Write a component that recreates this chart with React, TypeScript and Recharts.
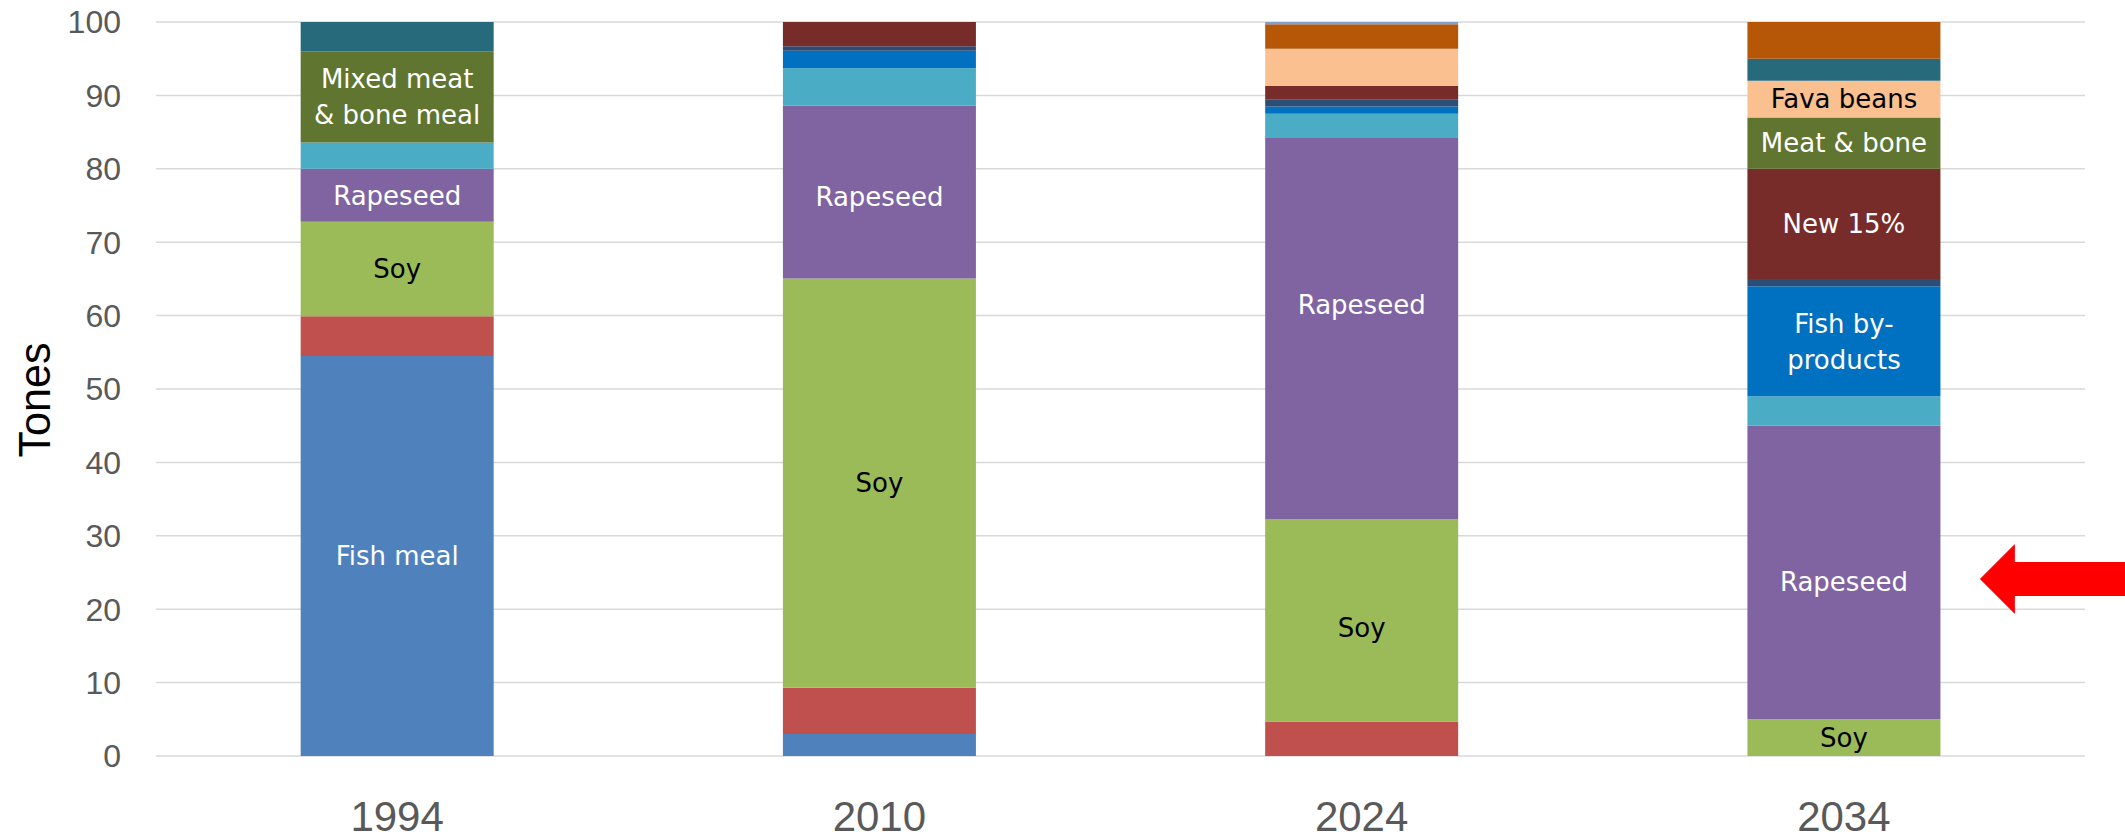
import React from 'react';
import { BarChart, Bar, XAxis, YAxis, CartesianGrid, LabelList, ReferenceDot, Label } from 'recharts';

const categories = ['1994', '2010', '2024', '2034'];

const fishMeal = [54.5, 3.0, 0, 0];
const otherRed = [5.4, 6.3, 4.7, 0];
const soy = [12.9, 55.75, 27.6, 5];
const rapeseed = [7.2, 23.55, 51.9, 40];
const lightBlue = [3.6, 5.1, 3.3, 4];
const fishByProducts = [0, 2.4, 1.0, 15];
const navy = [0, 0.6, 0.9, 1];
const new15 = [0, 3.3, 1.9, 15];
const meatBone = [12.4, 0, 0, 7];
const fava = [0, 0, 5.05, 5];
const teal = [4.0, 0, 0, 3];
const orange = [0, 0, 3.35, 5];
const topBlue = [0, 0, 0.3, 0];

const fishMealLabels = ['Fish meal', '', '', ''];
const soyLabels = ['Soy', 'Soy', 'Soy', 'Soy'];
const rapeseedLabels = ['Rapeseed', 'Rapeseed', 'Rapeseed', 'Rapeseed'];
const fishByProductsLabels = ['', '', '', 'Fish by-\nproducts'];
const new15Labels = ['', '', '', 'New 15%'];
const meatBoneLabels = ['Mixed meat\n& bone meal', '', '', 'Meat & bone'];
const favaLabels = ['', '', '', 'Fava beans'];

const yTicks = [0, 10, 20, 30, 40, 50, 60, 70, 80, 90, 100];
const arrowValue = 24.1;

// label vertical nudges (px), styling only
const labelNudge: Record<string, number[]> = {
  soy: [0, 0, 7, 0],
  rapeseed: [0, 5, -24, 9],
  meatBone: [0, 0, 0, 3],
  fishByProducts: [0, 0, 0, 2],
};

type Series = { key: string; values: number[]; color: string; labels?: string[]; labelColor?: string };

const series: Series[] = [
  { key: 'fishMeal', values: fishMeal, color: '#4F81BD', labels: fishMealLabels, labelColor: '#FFFFFF' },
  { key: 'otherRed', values: otherRed, color: '#C0504D' },
  { key: 'soy', values: soy, color: '#9BBB59', labels: soyLabels, labelColor: '#000000' },
  { key: 'rapeseed', values: rapeseed, color: '#8064A2', labels: rapeseedLabels, labelColor: '#FFFFFF' },
  { key: 'lightBlue', values: lightBlue, color: '#4BACC6' },
  { key: 'fishByProducts', values: fishByProducts, color: '#0070C0', labels: fishByProductsLabels, labelColor: '#FFFFFF' },
  { key: 'navy', values: navy, color: '#2C4D75' },
  { key: 'new15', values: new15, color: '#772C2A', labels: new15Labels, labelColor: '#FFFFFF' },
  { key: 'meatBone', values: meatBone, color: '#5F7530', labels: meatBoneLabels, labelColor: '#FFFFFF' },
  { key: 'fava', values: fava, color: '#FAC090', labels: favaLabels, labelColor: '#000000' },
  { key: 'teal', values: teal, color: '#276A7C' },
  { key: 'orange', values: orange, color: '#B65708' },
  { key: 'topBlue', values: topBlue, color: '#7CA0D4' },
];

const data = categories.map((year, i) => {
  const row: Record<string, any> = { year };
  series.forEach((s) => {
    row[s.key] = s.values[i];
    if (s.labels) row[s.key + '_label'] = s.labels[i];
  });
  return row;
});

const makeLabel = (color: string, key: string) => (props: any) => {
  const { value, index } = props;
  if (!value) return null;
  const vb = props.viewBox ?? props;
  const x = Number(vb.x);
  const y = Number(vb.y);
  const w = Number(vb.width);
  const h = Number(vb.height);
  const nudge = (labelNudge[key] && labelNudge[key][index]) || 0;
  const cx = x + w / 2;
  const cy = y + h / 2 + nudge;
  const lines = String(value).split('\n');
  const lh = 36;
  return (
    <text textAnchor="middle" fill={color} fontFamily="'DejaVu Sans', sans-serif" fontSize={26}>
      {lines.map((l, i) => (
        <tspan key={i} x={cx} y={cy + (i - (lines.length - 1) / 2) * lh} dy="0.36em">
          {l}
        </tspan>
      ))}
    </text>
  );
};

const Arrow = (props: any) => {
  const { cx, cy } = props;
  if (cx == null || cy == null) return null;
  const pts = [
    [cx + 136, cy],
    [cx + 171, cy - 35],
    [cx + 171, cy - 17],
    [cx + 300, cy - 17],
    [cx + 300, cy + 17],
    [cx + 171, cy + 17],
    [cx + 171, cy + 35],
  ]
    .map((p) => p.join(','))
    .join(' ');
  return <polygon points={pts} fill="#FF0000" />;
};

export default function App() {
  return (
    <div style={{ width: 2125, height: 840, overflow: 'hidden', background: '#fff' }}>
      <style>{'body{margin:0;}'}</style>
      <BarChart
        width={2125}
        height={840}
        data={data}
        margin={{ top: 22, right: 40, bottom: 0, left: 0 }}
        barCategoryGap="30%"
      >
        <CartesianGrid vertical={false} stroke="#D9D9D9" strokeWidth={1.5} />
        <XAxis
          dataKey="year"
          tickLine={false}
          axisLine={false}
          tickSize={0}
          tickMargin={45}
          height={84}
          interval={0}
          tick={{ fontSize: 42, fill: '#595959', fontFamily: "'Liberation Sans', Arial, sans-serif" }}
        />
        <YAxis
          domain={[0, 100]}
          ticks={yTicks}
          width={156}
          tickLine={false}
          axisLine={false}
          tickSize={0}
          tickMargin={35}
          interval={0}
          tick={{ fontSize: 32, fill: '#595959', fontFamily: "'Liberation Sans', Arial, sans-serif" }}
        >
          <Label
            content={() => (
              <text
                x={0}
                y={0}
                transform="translate(50,400) rotate(-90)"
                textAnchor="middle"
                fontSize={44}
                fill="#000000"
                fontFamily="'Liberation Sans', Arial, sans-serif"
                textLength={115}
                lengthAdjust="spacingAndGlyphs"
              >
                Tones
              </text>
            )}
          />
        </YAxis>
        {series.map((s) => (
          <Bar
            key={s.key}
            dataKey={s.key}
            stackId="a"
            fill={s.color}
            isAnimationActive={false}
          >
            {s.labels ? (
              <LabelList dataKey={s.key + '_label'} content={makeLabel(s.labelColor || '#fff', s.key)} />
            ) : null}
          </Bar>
        ))}
        <ReferenceDot x="2034" y={arrowValue} r={0} shape={Arrow} isFront />
      </BarChart>
    </div>
  );
}
